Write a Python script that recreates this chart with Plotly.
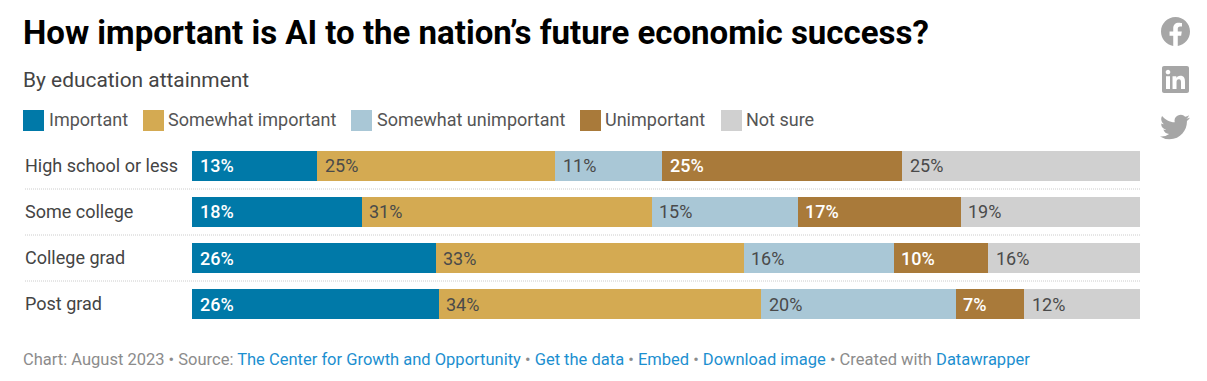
import base64
import plotly.graph_objects as go

W, H = 1207, 381
categories = ["High school or less", "Some college", "College grad", "Post grad"]
series_names = ["Important", "Somewhat important", "Somewhat unimportant", "Unimportant", "Not sure"]
important = [13.2, 17.9, 25.7, 26.05]
somewhat_important = [25.1, 30.6, 32.5, 34.0]
somewhat_unimportant = [11.3, 15.4, 15.8, 20.5]
unimportant = [25.3, 17.2, 10.0, 7.25]
not_sure = [25.1, 18.9, 16.0, 12.2]
labels_important = ["13%", "18%", "26%", "26%"]
labels_somewhat_important = ["25%", "31%", "33%", "34%"]
labels_somewhat_unimportant = ["11%", "15%", "16%", "20%"]
labels_unimportant = ["25%", "17%", "10%", "7%"]
labels_not_sure = ["25%", "19%", "16%", "12%"]
colors = ["#0079a8", "#d4aa52", "#a9c7d6", "#a97a3a", "#d0d0d0"]
label_colors = ["#ffffff", "#4a4a4a", "#4a4a4a", "#ffffff", "#4a4a4a"]
label_weights = [500, 400, 400, 500, 400]
legend_swatch_px = [23, 143, 351, 580, 721]
legend_text_px = [49, 168, 377, 605, 746]

values = [important, somewhat_important, somewhat_unimportant, unimportant, not_sure]
labels = [labels_important, labels_somewhat_important, labels_somewhat_unimportant, labels_unimportant, labels_not_sure]
FONT = "Roboto"


def px(x):
    return x / W


def py(y):
    return 1 - y / H


fig = go.Figure()
for name, vals, col in zip(series_names, values, colors):
    fig.add_trace(go.Bar(y=categories, x=vals, name=name, orientation="h",
                         marker=dict(color=col, line=dict(width=0)), hoverinfo="skip", showlegend=False))

annotations = []
starts = [0, 0, 0, 0]
for vals, labs, lc, wt in zip(values, labels, label_colors, label_weights):
    for i, (v, lab) in enumerate(zip(vals, labs)):
        annotations.append(dict(x=starts[i], y=categories[i], xref="x", yref="y", text=lab,
                                showarrow=False, xanchor="left", xshift=5.5, yshift=0,
                                font=dict(family=FONT, size=18, color=lc, weight=wt)))
        starts[i] += v

for c in categories:
    annotations.append(dict(x=px(25), y=c, xref="paper", yref="y", text=c, showarrow=False, xanchor="left", xshift=-2, yshift=0.5,
                            font=dict(family=FONT, size=18, color="#444444", weight=400)))


def text(x, y, s, size, color, weight=400):
    return dict(x=px(x), y=py(y), xref="paper", yref="paper", text=s, showarrow=False, xanchor="left", yanchor="middle",
                xshift=-2, font=dict(family=FONT, size=size, color=color, weight=weight))


annotations.append(text(23, 32, "<b>How important is AI to the nation’s future economic success?</b>", 33, "#000000", 700))
annotations.append(text(23, 80, "By education attainment", 20.9, "#444444"))
for x, name in zip(legend_text_px, series_names):
    annotations.append(text(x, 119, name, 18, "#555555"))
L = "#1c8fd0"
G = "#8c8c8c"


def link(s):
    return f'<span style="color:{L}">{s}</span>'


footer = ("Chart: August 2023 • Source: " + link("The Center for Growth and Opportunity") + " • " + link("Get the data")
          + " • " + link("Embed") + " • " + link("Download image") + " • Created with " + link("Datawrapper"))
annotations.append(text(23, 359, footer, 16.5, G))

shapes = []
for x, col in zip(legend_swatch_px, colors):
    shapes.append(dict(type="rect", xref="paper", yref="paper", x0=px(x), x1=px(x + 21), y0=py(131), y1=py(110),
                       fillcolor=col, line=dict(width=0)))
for pos in (0.5, 1.5, 2.5):
    shapes.append(dict(type="line", xref="paper", yref="y", x0=px(25), x1=px(1140), y0=pos, y1=pos,
                       line=dict(color="#cccccc", width=1, dash="1px,1px")))


def icon(path):
    svg = f'<svg xmlns="http://www.w3.org/2000/svg" viewBox="0 0 24 24"><path fill="#a6a6a6" d="{path}"/></svg>'
    return "data:image/svg+xml;base64," + base64.b64encode(svg.encode()).decode()


FB = "M24 12.073c0-6.627-5.373-12-12-12s-12 5.373-12 12c0 5.99 4.388 10.954 10.125 11.854v-8.385H7.078v-3.47h3.047V9.43c0-3.007 1.792-4.669 4.533-4.669 1.312 0 2.686.235 2.686.235v2.953H15.83c-1.491 0-1.956.925-1.956 1.874v2.25h3.328l-.532 3.47h-2.796v8.385C19.612 23.027 24 18.062 24 12.073z"
LI = "M20.447 20.452h-3.554v-5.569c0-1.328-.027-3.037-1.852-3.037-1.853 0-2.136 1.445-2.136 2.939v5.667H9.351V9h3.414v1.561h.046c.477-.9 1.637-1.85 3.37-1.85 3.601 0 4.267 2.37 4.267 5.455v6.286zM5.337 7.433c-1.144 0-2.063-.926-2.063-2.065 0-1.138.92-2.063 2.063-2.063 1.14 0 2.064.925 2.064 2.063 0 1.139-.925 2.065-2.064 2.065zm1.782 13.019H3.555V9h3.564v11.452zM22.225 0H1.771C.792 0 0 .774 0 1.729v20.542C0 23.227.792 24 1.771 24h20.451C23.2 24 24 23.227 24 22.271V1.729C24 .774 23.2 0 22.222 0h.003z"
TW = "M23.953 4.57a10 10 0 01-2.825.775 4.958 4.958 0 002.163-2.723c-.951.555-2.005.959-3.127 1.184a4.92 4.92 0 00-8.384 4.482C7.69 8.095 4.067 6.13 1.64 3.162a4.822 4.822 0 00-.666 2.475c0 1.71.87 3.213 2.188 4.096a4.904 4.904 0 01-2.228-.616v.06a4.923 4.923 0 003.946 4.827 4.996 4.996 0 01-2.212.085 4.936 4.936 0 004.604 3.417 9.867 9.867 0 01-6.102 2.105c-.39 0-.779-.023-1.17-.067a13.995 13.995 0 007.557 2.209c9.053 0 13.998-7.496 13.998-13.985 0-.21 0-.42-.015-.63A9.935 9.935 0 0024 4.59z"
images = []
for path, x0, y0, size in ((FB, 1161, 17, 29), (LI, 1162, 66, 27), (TW, 1160, 112, 30)):
    images.append(dict(source=icon(path), xref="paper", yref="paper", x=px(x0), y=py(y0), sizex=size / W, sizey=size / H,
                       xanchor="left", yanchor="top", sizing="contain", layer="above"))

fig.update_layout(
    width=W, height=H, autosize=False, barmode="stack", bargap=16 / 46,
    margin=dict(l=0, r=0, t=0, b=0), paper_bgcolor="#ffffff", plot_bgcolor="#ffffff",
    showlegend=False, annotations=annotations, shapes=shapes, images=images,
    xaxis=dict(domain=[px(192), px(1140)], range=[0, 100], visible=False, fixedrange=True),
    yaxis=dict(domain=[py(327), py(143)], range=[3.5, -0.5], categoryorder="array", categoryarray=categories,
               visible=False, fixedrange=True),
)
fig.write_html("out.html", config={"displayModeBar": False},
               post_script="document.body.style.margin='0';document.body.style.overflow='hidden';")
